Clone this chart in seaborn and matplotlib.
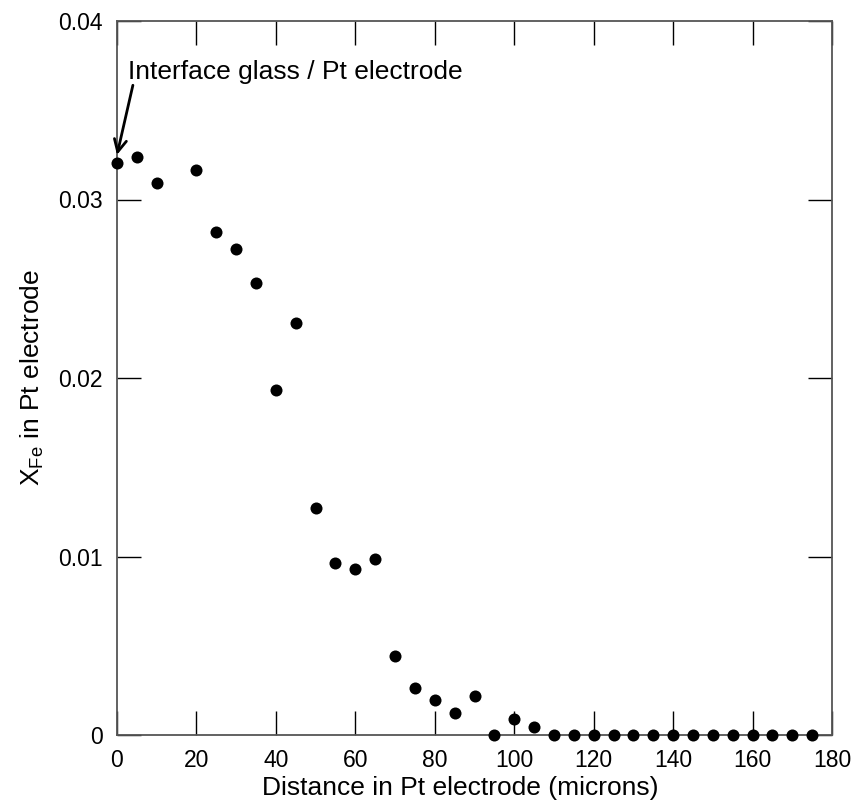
import matplotlib
matplotlib.use("Agg")
import matplotlib.pyplot as plt
import pandas as pd
import seaborn as sns

# Fe content measured across the Pt electrode
distance = [0, 5, 10, 20, 25, 30, 35, 40, 45, 50, 55, 60, 65, 70, 75, 80, 85, 90,
            95, 100, 105, 110, 115, 120, 125, 130, 135, 140, 145, 150, 155, 160,
            165, 170, 175]
x_fe = [0.03204, 0.03238, 0.0309, 0.03164, 0.02818, 0.02721, 0.02534, 0.01934,
        0.0231, 0.01273, 0.00962, 0.0093, 0.00988, 0.00441, 0.00265, 0.00194,
        0.00121, 0.00217, 0.0, 0.00092, 0.00047, 0.0, 0.0, 0.0, 0.0, 0.0, 0.0,
        0.0, 0.0, 0.0, 0.0, 0.0, 0.0, 0.0, 0.0]
x_ticks = [0, 20, 40, 60, 80, 100, 120, 140, 160, 180]
y_ticks = [0, 0.01, 0.02, 0.03, 0.04]
y_ticklabels = ["0", "0.01", "0.02", "0.03", "0.04"]

df = pd.DataFrame({"distance": distance, "x_fe": x_fe})

sns.set_style("ticks", {"text.color": "black", "axes.labelcolor": "black",
                        "xtick.color": "black", "ytick.color": "black"})
plt.rcParams["font.family"] = ["Liberation Sans", "DejaVu Sans"]
plt.rcParams["mathtext.fontset"] = "custom"
plt.rcParams["mathtext.rm"] = "Liberation Sans"

fig, ax = plt.subplots(figsize=(8.58, 8.07), dpi=100)
fig.subplots_adjust(left=117 / 858, right=832 / 858, top=1 - 21 / 807, bottom=1 - 735 / 807)

sns.scatterplot(data=df, x="distance", y="x_fe", ax=ax, color="black",
                s=75, edgecolor="black", linewidth=0, clip_on=False, zorder=5)

ax.set_xlim(0, 180)
ax.set_ylim(0, 0.04)
ax.set_xticks(x_ticks)
ax.set_yticks(y_ticks)
ax.set_yticklabels(y_ticklabels)

for side in ["top", "right", "bottom", "left"]:
    ax.spines[side].set_visible(True)
    ax.spines[side].set_color("#555555")
    ax.spines[side].set_linewidth(1.3)

ax.tick_params(axis="both", which="major", direction="in", length=17, width=1,
               color="black", labelcolor="black", labelsize=16.5, top=True, right=True)
ax.tick_params(axis="y", pad=10)
ax.tick_params(axis="x", pad=10)

ax.set_xlabel("Distance in Pt electrode (microns)", fontsize=19, color="black")
ax.xaxis.set_label_coords(0.48, -0.058)
ax.set_ylabel(r"X$_{\mathrm{Fe}}$ in Pt electrode", fontsize=19, labelpad=9, color="black")

ax.text(2.8, 0.03714, "Interface glass / Pt electrode", fontsize=19,
        ha="left", va="center", color="black")
ax.annotate("", xy=(0, 0.0325), xytext=(4.0, 0.0364),
            arrowprops=dict(arrowstyle="->", color="black", lw=2,
                            mutation_scale=22, shrinkA=0, shrinkB=0))

fig.savefig("out.png", dpi=100)
